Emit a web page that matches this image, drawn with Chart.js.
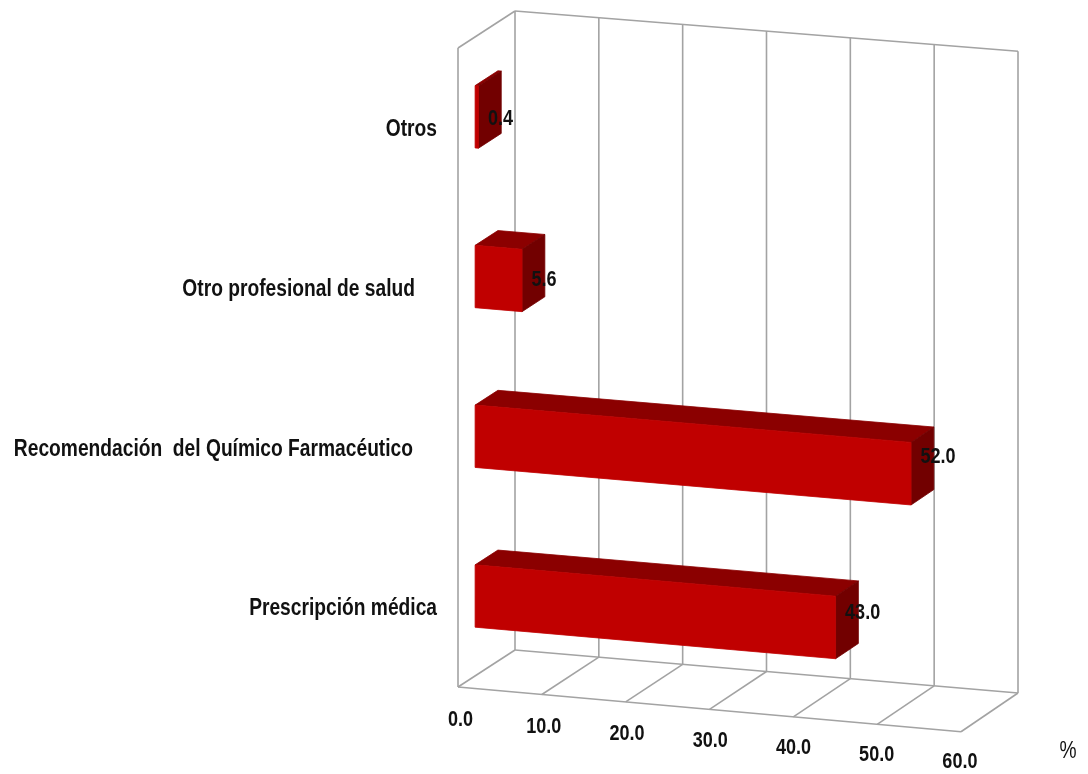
<!DOCTYPE html>
<html>
<head>
<meta charset="utf-8">
<style>
  html, body { margin: 0; padding: 0; background: #fff; }
  #wrap { width: 1088px; height: 774px; }
</style>
<script src="https://cdn.jsdelivr.net/npm/chart.js@4/dist/chart.umd.min.js"></script>
</head>
<body>
<div id="wrap"><canvas id="chart"></canvas></div>
<script>
const categories = ['Otros', 'Otro profesional de salud', 'Recomendación  del Químico Farmacéutico', 'Prescripción médica'];
const values = [0.4, 5.6, 52.0, 43.0];
const tickLabels = ['0.0', '10.0', '20.0', '30.0', '40.0', '50.0', '60.0'];
const axisUnit = '%';

// right end of each category label
const labelRight = [437, 415, 413, 437];

const FONT = 'bold 23px "Liberation Sans"';
const DIGIT_FONT = 'bold 22px "Liberation Sans"';
const FRONT = '#c00000';
const TOP_FACE = '#8b0000';
const SIDE_FACE = '#720000';
const FRAME = '#a3a3a3';
const INK = '#111';

// the back wall falls to the right; depth runs towards the lower left
const DEPTH = { x: -57, y: 37 };
const BAR_NEAR = 0.7;
const BAR_FAR = 0.3;

function project(chart, x, y, depth) {
    const a = chart.chartArea;
    const t = (y - a.top) / (a.bottom - a.top);
    const slope = 0.08 + 0.0055 * t + 0.0035 * depth;
    return [x + DEPTH.x * depth, y + slope * (x - a.left) + DEPTH.y * depth];
}

function poly(ctx, pts, fill) {
    ctx.beginPath();
    pts.forEach((p, i) => (i ? ctx.lineTo(p[0], p[1]) : ctx.moveTo(p[0], p[1])));
    ctx.closePath();
    ctx.fillStyle = fill;
    ctx.strokeStyle = fill;
    ctx.lineWidth = 0.8;
    ctx.fill();
    ctx.stroke();
}

// narrow bold text: the face is squeezed horizontally around its anchor
function narrowText(ctx, text, x, y, align, narrow) {
    ctx.save();
    ctx.translate(x, y);
    ctx.scale(narrow, 1);
    ctx.textAlign = align;
    ctx.textBaseline = 'middle';
    ctx.fillText(text, 0, 0);
    ctx.restore();
}

const frame3d = {
    id: 'frame3d',
    beforeDatasetsDraw(chart) {
        const { ctx, chartArea: a, scales } = chart;
        ctx.save();
        ctx.lineWidth = 1.6;
        ctx.strokeStyle = FRAME;
        const line = (p, q) => {
            ctx.beginPath();
            ctx.moveTo(p[0], p[1]);
            ctx.lineTo(q[0], q[1]);
            ctx.stroke();
        };
        const p = (x, y, d) => project(chart, x, y, d);
        // back wall gridlines and floor lines
        tickLabels.forEach((t) => {
            const x = scales.x.getPixelForValue(parseFloat(t));
            line(p(x, a.top, 0), p(x, a.bottom, 0));
            line(p(x, a.bottom, 0), p(x, a.bottom, 1));
        });
        line(p(a.left, a.top, 0), p(a.right, a.top, 0));
        line(p(a.left, a.bottom, 0), p(a.right, a.bottom, 0));
        line(p(a.left, a.bottom, 1), p(a.right, a.bottom, 1));
        // left wall
        line(p(a.left, a.top, 0), p(a.left, a.top, 1));
        line(p(a.left, a.top, 1), p(a.left, a.bottom, 1));
        ctx.restore();
    },
    afterDatasetsDraw(chart) {
        const { ctx } = chart;
        const meta = chart.getDatasetMeta(0);
        ctx.save();
        meta.data.forEach((bar) => {
            const { x, y, base, height } = bar.getProps(['x', 'y', 'base', 'height'], true);
            const top = y - height / 2;
            const bottom = y + height / 2;
            const p = (px, py, d) => project(chart, px, py, d);
            poly(ctx, [p(base, top, BAR_NEAR), p(x, top, BAR_NEAR), p(x, top, BAR_FAR), p(base, top, BAR_FAR)], TOP_FACE);
            poly(ctx, [p(x, top, BAR_NEAR), p(x, bottom, BAR_NEAR), p(x, bottom, BAR_FAR), p(x, top, BAR_FAR)], SIDE_FACE);
            poly(ctx, [p(base, top, BAR_NEAR), p(x, top, BAR_NEAR), p(x, bottom, BAR_NEAR), p(base, bottom, BAR_NEAR)], FRONT);
        });
        ctx.restore();
    },
    afterDraw(chart) {
        const { ctx, chartArea: a, scales } = chart;
        ctx.save();
        ctx.fillStyle = INK;
        // category labels
        ctx.font = FONT;
        categories.forEach((c, i) => {
            narrowText(ctx, c, labelRight[i], scales.y.getPixelForValue(i) + 39, 'right', 0.835);
        });
        ctx.font = DIGIT_FONT;
        // value labels, on the side face of each bar
        chart.getDatasetMeta(0).data.forEach((bar, i) => {
            const q = project(chart, bar.x, bar.y, BAR_NEAR);
            const drop = 27.5 + (bar.x - a.left) * 0.043;
            narrowText(ctx, values[i].toFixed(1), q[0] + 9.5, bar.y + drop, 'left', 0.82);
        });
        // value axis labels below the front floor edge
        tickLabels.forEach((t, i) => {
            const q = project(chart, scales.x.getPixelForValue(parseFloat(t)), a.bottom, 1);
            narrowText(ctx, t, q[0] + 2.5 - i * 0.6, q[1] + 33 - i * 0.4, 'center', 0.82);
        });
        ctx.font = '24px "Liberation Sans"';
        narrowText(ctx, axisUnit, 1068, 751, 'center', 0.8);
        ctx.restore();
    }
};

new Chart(document.getElementById('chart'), {
    type: 'bar',
    data: {
        labels: categories,
        datasets: [{ data: values, backgroundColor: 'rgba(0,0,0,0)', barPercentage: 0.39, categoryPercentage: 1 }]
    },
    options: {
        indexAxis: 'y',
        responsive: true,
        maintainAspectRatio: false,
        animation: false,
        layout: { padding: { left: 515, right: 70, top: 11, bottom: 124 } },
        plugins: { legend: { display: false }, tooltip: { enabled: false } },
        scales: {
            x: { display: false, min: 0, max: 60 },
            y: { display: false }
        }
    },
    plugins: [frame3d]
});
</script>
</body>
</html>
